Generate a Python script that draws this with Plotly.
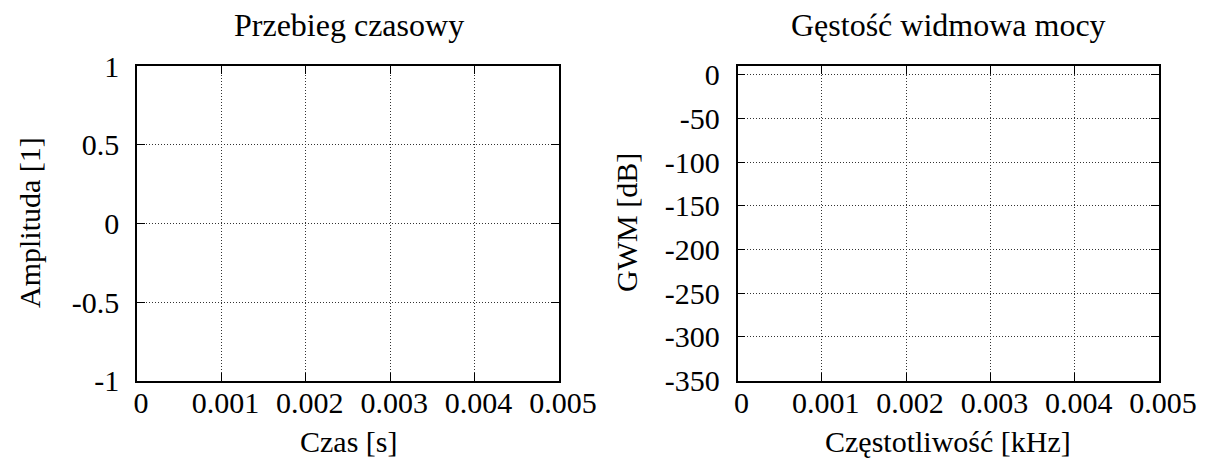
import plotly.graph_objects as go

# ---- data (the reference shows empty axes) ----
time_s = []
amplitude = []
freq_khz = []
psd_db = []

x_ticks = [0, 0.001, 0.002, 0.003, 0.004, 0.005]
x_tick_labels = ["0", "0.001", "0.002", "0.003", "0.004", "0.005"]
amp_ticks = [-1, -0.5, 0, 0.5, 1]
amp_tick_labels = ["-1", "-0.5", "0", "0.5", "1"]
psd_ticks = [0, -50, -100, -150, -200, -250, -300, -350]
psd_tick_labels = ["0", "-50", "-100", "-150", "-200", "-250", "-300", "-350"]

titles = ["Przebieg czasowy", "Gęstość widmowa mocy"]
x_titles = ["Czas [s]", "Częstotliwość [kHz]"]
y_titles = ["Amplituda [1]", "GWM [dB]"]

# page body has an 8px default margin -> figure is 8px smaller and shifted
OFF = 8
W, H = 1208 - OFF, 466 - OFF
FONT = "Liberation Serif, Times New Roman, serif"
FS = 30

fig = go.Figure()
fig.add_trace(go.Scatter(x=time_s, y=amplitude, mode="lines", xaxis="x", yaxis="y",
                         line=dict(color="#9400d3"), showlegend=False))
fig.add_trace(go.Scatter(x=freq_khz, y=psd_db, mode="lines", xaxis="x2", yaxis="y2",
                         line=dict(color="#9400d3"), showlegend=False))

def px(v):
    return (v - OFF) / W

def py(v):
    return (H - (v - OFF)) / H

common = dict(
    showline=True, linecolor="black", linewidth=1.6, mirror="allticks",
    ticks="inside", ticklen=8, tickwidth=1.4, tickcolor="black",
    showgrid=True, gridcolor="#333", gridwidth=1, griddash="1px,2px",
    zeroline=False, automargin=False,
    tickfont=dict(family=FONT, size=FS, color="black"),
)

ydom = [py(380.7), py(66)]
fig.update_layout(
    template="none",
    width=W, height=H,
    margin=dict(l=0, r=0, t=0, b=0, pad=0),
    paper_bgcolor="white", plot_bgcolor="white",
    showlegend=False,
    xaxis=dict(domain=[px(137), px(559)], range=[0, 0.005], tickvals=x_ticks,
               ticktext=x_tick_labels, anchor="y", ticklabelstandoff=-6,
               ticklabelshift=4, **common),
    yaxis=dict(domain=ydom, range=[-1, 1], tickvals=amp_ticks,
               ticktext=amp_tick_labels, anchor="x", ticklabelstandoff=10, **common),
    xaxis2=dict(domain=[px(737.5), px(1159)], range=[0, 0.005], tickvals=x_ticks,
                ticktext=x_tick_labels, anchor="y2", ticklabelstandoff=-6,
                ticklabelshift=4, **common),
    yaxis2=dict(domain=ydom, range=[-350, 10], tickvals=psd_ticks,
                ticktext=psd_tick_labels, anchor="x2", ticklabelstandoff=10, **common),
)

ann_font = dict(family=FONT, size=FS, color="black")
title_font = dict(family=FONT, size=32, color="black")
title_x = [349, 948]
xt_x = [348, 948]
yt_x = [29, 626]
for i in range(2):
    fig.add_annotation(text=titles[i], x=px(title_x[i]), y=py(25), xref="paper", yref="paper",
                       xanchor="center", yanchor="middle", showarrow=False, font=title_font)
    fig.add_annotation(text=x_titles[i], x=px(xt_x[i]), y=py(441), xref="paper", yref="paper",
                       xanchor="center", yanchor="middle", showarrow=False, font=ann_font)
    fig.add_annotation(text=y_titles[i], x=px(yt_x[i]), y=py(223), xref="paper", yref="paper",
                       xanchor="center", yanchor="middle", showarrow=False, font=ann_font,
                       textangle=-90)

fig.write_html("out.html")
